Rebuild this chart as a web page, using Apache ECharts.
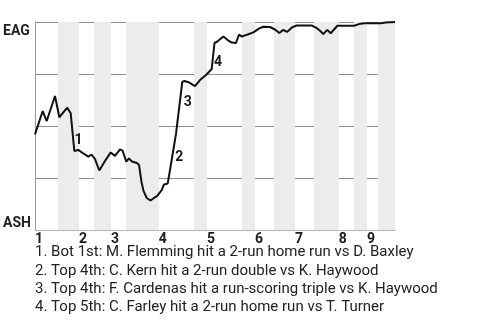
<!DOCTYPE html>
<html>
<head>
<meta charset="utf-8">
<script src="https://cdn.jsdelivr.net/npm/echarts@6/dist/echarts.min.js"></script>
<style>html,body{margin:0;padding:0;background:#fff}#c{width:480px;height:320px}</style>
</head>
<body>
<div id="c"></div>
<script>
// game progress (0..100) and EAG win probability
const progress = [0,2.14,3.25,5.56,6.75,8.97,9.92,10.92,12.03,13.42,14.81,15.69,16.67,17.86,19.44,21.03,22.22,23.61,24.31,25.36,26.11,26.94,28.33,28.89,29.58,30.14,31.03,32.08,33.06,33.89,35.19,35.83,36.86,37.64,39.17,40.92,41.53,42.86,44.44,45.83,47.5,49.08,49.86,50.56,52.31,53.69,54.72,55.83,56.67,57.5,58.89,60.64,62.31,63.42,65.28,66.67,67.86,68.97,70,71.39,72.69,76.94,78.25,79.17,80.08,81.19,82.14,84.0,88.61,90.0,91.39,96.03,97.42,100];
const winProb = [0.460,0.572,0.524,0.644,0.542,0.588,0.561,0.380,0.385,0.368,0.353,0.363,0.341,0.286,0.332,0.373,0.356,0.388,0.382,0.329,0.344,0.329,0.322,0.313,0.231,0.188,0.154,0.142,0.154,0.163,0.192,0.219,0.223,0.303,0.462,0.713,0.716,0.709,0.692,0.721,0.745,0.774,0.899,0.905,0.930,0.911,0.901,0.899,0.940,0.930,0.939,0.950,0.969,0.977,0.976,0.964,0.947,0.962,0.952,0.974,0.983,0.983,0.971,0.958,0.942,0.962,0.946,0.982,0.982,0.990,0.994,0.994,0.998,1.0];
// half-inning boundaries (start of each half, then end)
const halfStarts = [0,6.4,12.2,16.4,21.1,25.3,34.4,44.2,47.8,57.5,61.1,66.4,72.2,77.5,84.4,88.6,92.2,95.3,100];
const inningLabels = ['1','2','3','4','5','6','7','8','9'];
const teamTop = 'EAG', teamBottom = 'ASH';
// key events
const eventX = [10.42, 38.1, 40.2, 49.2];
const eventY = [0.471, 0.351, 0.611, 0.803];
const eventText = [
  '1. Bot 1st: M. Flemming hit a 2-run home run vs D. Baxley',
  '2. Top 4th: C. Kern hit a 2-run double vs K. Haywood',
  '3. Top 4th: F. Cardenas hit a run-scoring triple vs K. Haywood',
  '4. Top 5th: C. Farley hit a 2-run home run vs T. Turner'
];

const eventOffsets = [[6,8],[7,1],[8,0],[6,0]];
const FONT = 'Roboto';
const inningStarts = [];
for (let i = 0; i < inningLabels.length; i++) inningStarts.push(halfStarts[2*i]);
const bands = [];
for (let i = 0; i < inningLabels.length; i++) bands.push([{xAxis: halfStarts[2*i+1]}, {xAxis: halfStarts[2*i+2]}]);

const chart = echarts.init(document.getElementById('c'), null, {renderer: 'canvas'});
chart.setOption({
  animation: false,
  grid: {left: 35, right: 85, top: 22, bottom: 90, containLabel: false},
  xAxis: {
    type: 'value', min: 0, max: 100,
    axisLine: {show: true, lineStyle: {color: '#b5b5b5', width: 1}}, axisTick: {show: false}, splitLine: {show: false},
    axisLabel: {
      customValues: inningStarts,
      formatter: v => { const i = inningStarts.findIndex(s => Math.abs(s - v) < 1e-6); return i >= 0 ? inningLabels[i] : ''; },
      align: 'left', margin: 2, fontFamily: FONT, fontWeight: 'bold', fontSize: 14, color: '#1a1a1a'
    }
  },
  yAxis: {
    type: 'value', min: 0, max: 1, interval: 0.25,
    axisLine: {show: true, lineStyle: {color: '#999', width: 1}},
    axisTick: {show: false},
    splitLine: {show: true, showMinLine: false, lineStyle: {color: '#8f8f8f', width: 1}},
    axisLabel: {
      align: 'left', margin: 32,
      formatter: v => v === 1 ? '{t|' + teamTop + '}' : (v === 0 ? '{b|' + teamBottom + '}' : ''),
      rich: {
        t: {fontFamily: FONT, fontWeight: 'bold', fontSize: 14, color: '#222', padding: [18,0,0,0]},
        b: {fontFamily: FONT, fontWeight: 'bold', fontSize: 14, color: '#222', padding: [0,0,14,0]}
      }
    }
  },
  series: [
    {
      type: 'line', data: progress.map((x, i) => [x, winProb[i]]),
      symbol: 'none', lineStyle: {color: '#111', width: 2}, z: 3,
      markArea: {silent: true, itemStyle: {color: '#ececec'}, data: bands, z: 1}
    },
    {
      type: 'scatter', symbolSize: 1, itemStyle: {color: 'rgba(0,0,0,0)'}, z: 4,
      data: eventX.map((x, i) => ({
        value: [x, eventY[i]],
        label: {show: true, position: 'inside', offset: eventOffsets[i], formatter: String(i + 1),
                fontFamily: FONT, fontWeight: 'bold', fontSize: 14, color: '#1a1a1a', textBorderWidth: 0, opacity: 1}
      }))
    }
  ],
  graphic: eventText.map((t, i) => ({
    type: 'text', left: 35, top: 245 + i * 18.4,
    style: {text: t, font: '15px ' + FONT, fill: '#222'}
  }))
});
</script>
</body>
</html>
